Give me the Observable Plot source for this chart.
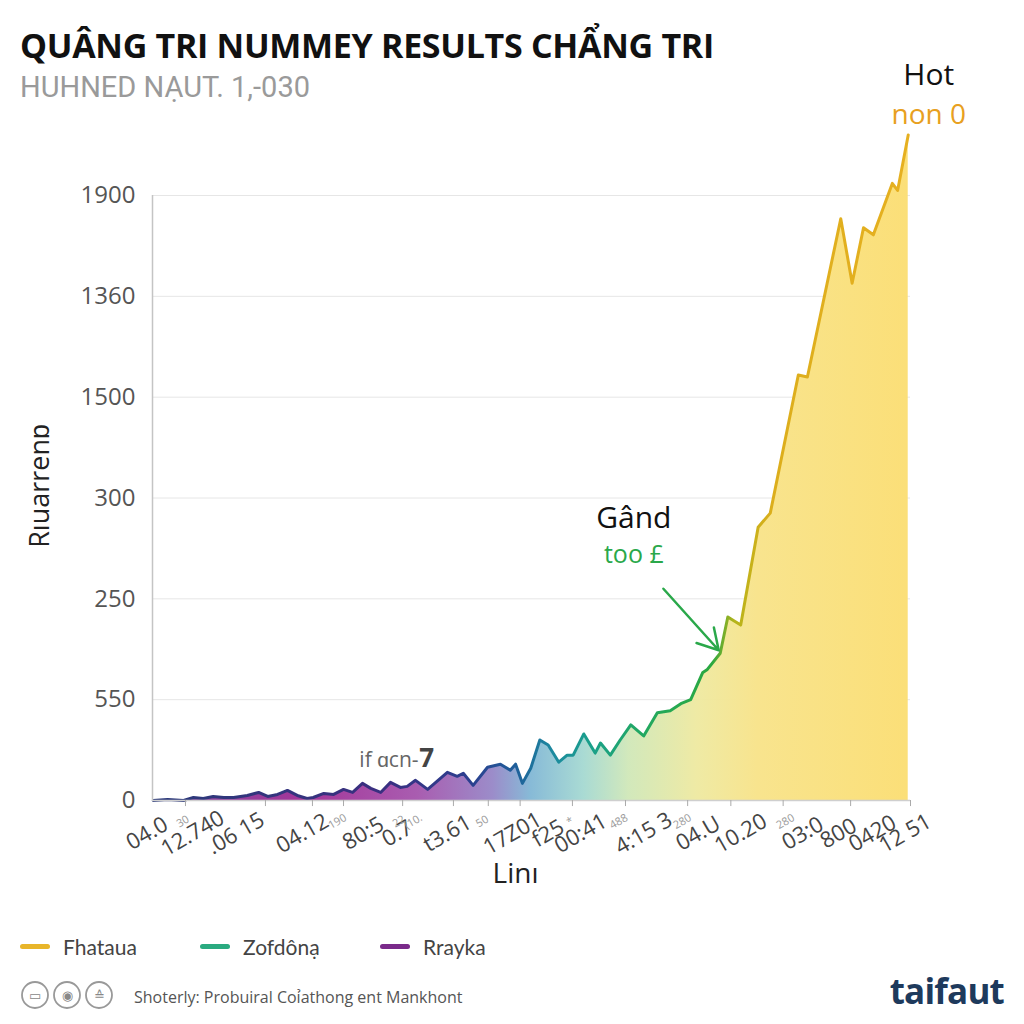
<!DOCTYPE html>
<html>
<head>
<meta charset="utf-8">
<script src="https://cdn.jsdelivr.net/npm/d3@7"></script>
<script src="https://cdn.jsdelivr.net/npm/@observablehq/plot@0.6"></script>
<style>
  body { margin:0; background:#fff; width:1024px; height:1024px; position:relative; overflow:hidden; font-family:"Open Sans", sans-serif; }
  #title { position:absolute; left:20px; top:25px; font-size:34px; line-height:40px; font-weight:700; color:#111; letter-spacing:-0.3px; white-space:nowrap; }
  #subtitle { position:absolute; left:20px; top:70px; font-family:Roboto, sans-serif; font-size:29px; line-height:34px; color:#9a9a9a; white-space:nowrap; }
  #chart { position:absolute; left:0; top:100px; }
  #legend { position:absolute; left:0; top:934px; width:1024px; height:34px; font-size:21px; color:#444; font-family:Lato, sans-serif; }
  #legend .item { position:absolute; top:0; display:flex; align-items:center; }
  #legend .sw { display:inline-block; width:30px; height:5px; border-radius:3px; margin-right:13px; }
  #footer { position:absolute; left:20px; top:978px; display:flex; align-items:center; }
  #source { font-size:16px; color:#555; margin-left:14px; margin-top:4px; }
  #logo { position:absolute; right:20px; top:967px; font-size:35px; font-weight:700; color:#1e3a5c; letter-spacing:-0.8px; }
</style>
</head>
<body>
<div id="title"></div>
<div id="subtitle"></div>
<div id="chart"></div>
<div id="legend"></div>
<div id="footer"></div>
<div id="logo"></div>
<script>
// ---- data ----
const titleText = "QUÂNG TRI NUMMEY RESULTS CHẨNG TRI";
const subtitleText = "HUHNED NẠUT. 1,-030";
const t = [0.1,2.0,4.1,5.4,6.7,8.0,9.4,10.7,12.5,14.0,15.2,16.5,17.8,19.1,20.4,21.2,22.6,23.9,25.2,26.4,27.7,28.8,30.1,31.4,32.7,33.6,34.7,36.3,38.9,40.2,41.0,42.3,44.2,45.9,47.2,47.9,48.8,49.9,51.1,52.2,53.6,54.7,55.5,56.9,58.4,59.1,60.4,61.7,63.1,64.8,66.6,68.3,69.7,71.0,72.6,73.2,74.9,75.9,77.6,79.9,81.5,85.2,86.4,90.8,92.3,93.8,95.1,97.6,98.3,99.7];
const value = [0,1,0,3,2,4,3,3,5,8,4,6,10,5,2,3,7,6,11,8,17,12,8,18,13,14,20,11,28,24,27,15,33,36,30,36,17,32,60,55,38,45,45,66,47,57,45,60,75,64,87,89,96,100,127,130,146,182,174,271,285,422,420,577,513,568,561,612,605,660];
const yTicks = [0,100,200,300,400,500,600];
const yLabels = ["0","550","250","300","1500","1360","1900"];
const xTickPos = [4.35,14.9,21.1,25.2,33.0,39.7,44.3,48.5,55.4,62.4,70.6,76.3,83.2,92.1,100];
const xLabelPos = [-0.7,5.3,11.0,19.8,27.8,32.3,38.9,47.5,52.2,56.5,64.8,72.0,77.6,85.8,90.5,95.0,99.3];
const xLabels = ["04.0","12.740",".06 15","04.12","80:5","0.7","t3.61","17Z01","f25","00:41","4:15 3","04.U","10.20","03:0","800","0420","12 51"];
const xMinorPos = [4.0,24.4,32.5,34.4,43.5,55.1,61.5,69.9,83.5];
const xMinorLabels = ["30","190","22","(10.","50","*","488","280","280"];
const yTitle = "Rıuarrenɒ";
const xTitle = "Linı";
const legendNames = ["Fhataua","Zofdônạ","Rrayka"];
const legendColors = ["#e8b52a","#2aaa80","#7a2a8a"];
const sourceText = "Shoterly: Probuiral Coỉathong ent Mankhont";
const logoText = "taifaut";

const data = t.map((x,i)=>({t:x, v:value[i]}));

document.getElementById("title").textContent = titleText;
document.getElementById("subtitle").textContent = subtitleText;

const chart = Plot.plot({
  width: 1024, height: 800,
  marginLeft: 152, marginRight: 114, marginTop: 95, marginBottom: 100,
  x: {domain:[0,100], axis:null},
  y: {domain:[0,600], axis:null},
  style: {fontFamily:"Open Sans, sans-serif", background:"transparent", overflow:"visible"},
  marks: [
    Plot.ruleY(yTicks.slice(1), {stroke:"#e6e6e6", strokeWidth:1}),
    Plot.areaY(data, {x:"t", y:"v", fill:"url(#areaGrad)", curve:"linear"}),
    Plot.lineY(data, {x:"t", y:"v", stroke:"url(#lineGrad)", strokeWidth:3, strokeLinejoin:"round"}),
    Plot.ruleX([0], {y1:0, y2:600, stroke:"#c4c4c4", strokeWidth:1.5}),
    Plot.ruleY([0], {stroke:"#cfcfcf", strokeWidth:1.5}),
    Plot.ruleX(xTickPos, {y1:0, y2:-6, stroke:"#aaa"}),
    Plot.text(yTicks, {frameAnchor:"left", y:d=>d, text:(d,i)=>yLabels[i], textAnchor:"end", dx:-17, fontSize:24, fill:"#555"}),
    Plot.text(xLabelPos, {x:d=>d, y:0, text:(d,i)=>xLabels[i], rotate:-30, dy:33, fontSize:22, fill:"#444"}),
    Plot.text(xMinorPos, {x:d=>d, y:0, text:(d,i)=>xMinorLabels[i], rotate:-30, dy:21, fontSize:11, fill:"#9a9a9a"}),
    Plot.text([yTitle], {frameAnchor:"left", y:312, dx:-112, rotate:-90, textAnchor:"middle", fontSize:27, fill:"#222"}),
    Plot.text([xTitle], {frameAnchor:"bottom", x:47.9, dy:82, fontSize:28, fill:"#222"}),
    // annotations
    Plot.text(["Hot"], {x:102.4, y:719, fontSize:30, fill:"#111"}),
    Plot.text(["non 0"], {x:102.4, y:680, fontSize:28, fill:"#e8a020"}),
    Plot.text(["Gând"], {x:63.5, y:280, fontSize:30, fill:"#111"}),
    Plot.text(["too £"], {x:63.5, y:243, fontSize:25, fill:"#2aa84a"}),
    Plot.arrow([{x1:67.4, y1:210, x2:74.7, y2:149}], {x1:"x1", y1:"y1", x2:"x2", y2:"y2", stroke:"#2aa84a", strokeWidth:2.5, headLength:14}),
    Plot.text(["if ɑcn-"], {x:35.1, y:40, textAnchor:"end", fontSize:21, fill:"#666"}),
    Plot.text(["7"], {x:35.2, y:41, textAnchor:"start", fontSize:26, fontWeight:"bold", fill:"#444"})
  ]
});

// gradients
const svg = chart.tagName.toLowerCase()==="svg" ? chart : chart.querySelector("svg");
const NS = "http://www.w3.org/2000/svg";
function grad(id, stops){
  const g = document.createElementNS(NS,"linearGradient");
  g.setAttribute("id", id); g.setAttribute("x1","0"); g.setAttribute("x2","1"); g.setAttribute("y1","0"); g.setAttribute("y2","0");
  stops.forEach(([o,c,op])=>{
    const s = document.createElementNS(NS,"stop");
    s.setAttribute("offset", o); s.setAttribute("stop-color", c); s.setAttribute("stop-opacity", op==null?1:op);
    g.appendChild(s);
  });
  return g;
}
const defs = document.createElementNS(NS,"defs");
defs.appendChild(grad("areaGrad", [
  [0,"#6a2a8e",0.85],[0.2,"#9a1f8e",0.9],[0.35,"#9a40a2",0.85],[0.45,"#8a78c0",0.85],
  [0.5,"#72aed0",0.85],[0.57,"#9ad4cc",0.85],[0.63,"#cde6b4",0.9],[0.72,"#eee9a0",0.95],
  [0.8,"#f8e48e",1],[1,"#fbdf78",1]
]));
defs.appendChild(grad("lineGrad", [
  [0,"#2b3a7a"],[0.3,"#3a2f80"],[0.42,"#2c3f8f"],[0.48,"#1f5f9a"],[0.53,"#1c8a9f"],
  [0.58,"#1aa08a"],[0.65,"#22a860"],[0.74,"#2aa840"],[0.77,"#b6b41a"],[0.82,"#dcae1c"],[1,"#e6b020"]
]));
svg.insertBefore(defs, svg.firstChild);
document.getElementById("chart").appendChild(chart);

// legend
const legend = document.getElementById("legend");
const lefts = [20, 200, 380];
legendNames.forEach((n,i)=>{
  const it = document.createElement("div"); it.className="item"; it.style.left = lefts[i]+"px";
  const sw = document.createElement("span"); sw.className="sw"; sw.style.background = legendColors[i];
  const tx = document.createElement("span"); tx.textContent = n;
  it.appendChild(sw); it.appendChild(tx); legend.appendChild(it);
});

// footer
const footer = document.getElementById("footer");
const icons = ["▭","◉","≙"];
const isvg = document.createElementNS(NS,"svg");
isvg.setAttribute("width","100"); isvg.setAttribute("height","34");
icons.forEach((ic,i)=>{
  const c = document.createElementNS(NS,"circle");
  c.setAttribute("cx", 15+i*32); c.setAttribute("cy", 17); c.setAttribute("r", 13);
  c.setAttribute("fill","none"); c.setAttribute("stroke","#999"); c.setAttribute("stroke-width","1.8");
  isvg.appendChild(c);
  const tx = document.createElementNS(NS,"text");
  tx.setAttribute("x", 15+i*32); tx.setAttribute("y", 22); tx.setAttribute("text-anchor","middle");
  tx.setAttribute("font-size","13"); tx.setAttribute("fill","#888"); tx.textContent = ic;
  isvg.appendChild(tx);
});
footer.appendChild(isvg);
const src = document.createElement("span"); src.id="source"; src.textContent = sourceText;
footer.appendChild(src);
document.getElementById("logo").textContent = logoText;
</script>
</body>
</html>
